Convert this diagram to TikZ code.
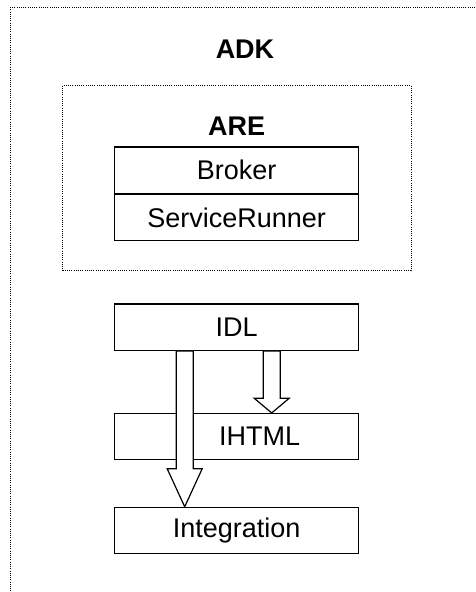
\documentclass[tikz,border=0pt]{standalone}
\usepackage{fontspec}
\setmainfont{Liberation Sans}
\usetikzlibrary{positioning,calc}

% hollow block arrow from the bottom of #1 to the top of #2
% #3 = shift along x, #4 = length of the head
\newcommand{\fatarrow}[4]{%
  \draw [arrowline] let \p1 = ([xshift=#3]#1.south), \p2 = (#2.north) in
    (\x1-8.5pt,\y1) -- (\x1-8.5pt,\y2+#4) -- (\x1-17.5pt,\y2+#4) -- (\x1,\y2)
    -- (\x1+17.5pt,\y2+#4) -- (\x1+8.5pt,\y2+#4) -- (\x1+8.5pt,\y1) -- cycle;}

\begin{document}
\begin{tikzpicture}[x=1pt, y=1pt, node distance = 62pt,
    font=\fontsize{27}{32}\selectfont]
  \tikzstyle{block} = [rectangle, draw, line width=1.2pt, minimum width=244pt,
    minimum height=46.3pt, inner sep=0pt]
  \tikzstyle{frame} = [draw, line width=0.7pt, dash pattern=on 1pt off 1.2pt]
  \tikzstyle{title} = [font=\fontsize{27}{32}\selectfont\bfseries]
  \tikzstyle{arrowline} = [draw, line width=1.2pt, fill=white, line join=miter]

  \useasboundingbox (0,0) rectangle (475,592);
  \clip (0,0) rectangle (475,592);

  % Frames
  \draw [frame] (10,584.7) rectangle (520,-30);
  \node [title] (adk) at (245,543) {ADK};
  \draw [frame] (62.7,506.3) rectangle (411,321.3);
  \node [title] (are) at (236.7,465.5) {ARE};

  % Place nodes
  \node [block] (broker) at (236.7,421.8) {Broker};
  \node [block, below=0pt of broker] (runner) {ServiceRunner};
  \node [block, below=of runner] (idl) {IDL};
  \node [block, below=of idl] (ihtml) {\hspace*{46pt}IHTML};
  \node [block, below=46.3pt of ihtml] (integ) {Integration};

  % Draw arrows
  \fatarrow{idl}{integ}{-52pt}{38pt}
  \fatarrow{idl}{ihtml}{35pt}{14.7pt}
\end{tikzpicture}
\end{document}
